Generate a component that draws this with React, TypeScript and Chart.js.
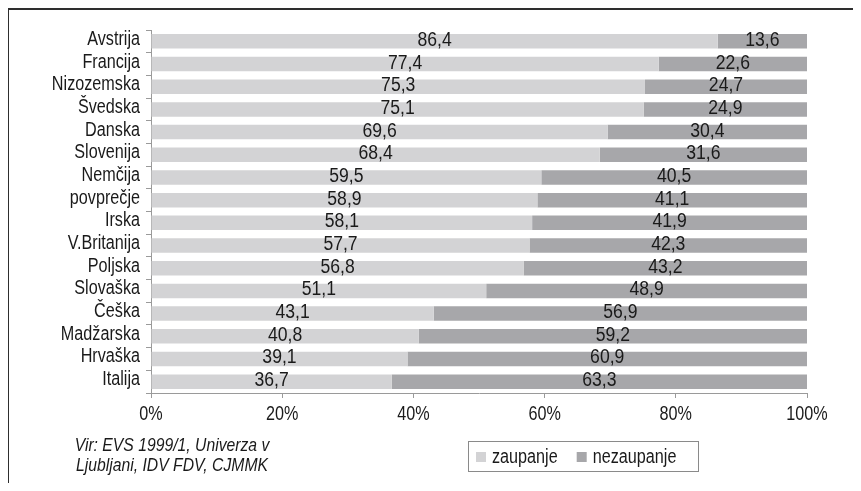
import React, { useEffect, useRef } from "react";
import { Chart, registerables } from "chart.js";

Chart.register(...registerables);

const categories = [
  "Avstrija", "Francija", "Nizozemska", "Švedska", "Danska", "Slovenija", "Nemčija", "povprečje",
  "Irska", "V.Britanija", "Poljska", "Slovaška", "Češka", "Madžarska", "Hrvaška", "Italija",
];
const zaupanje = [86.4, 77.4, 75.3, 75.1, 69.6, 68.4, 59.5, 58.9, 58.1, 57.7, 56.8, 51.1, 43.1, 40.8, 39.1, 36.7];
const nezaupanje = [13.6, 22.6, 24.7, 24.9, 30.4, 31.6, 40.5, 41.1, 41.9, 42.3, 43.2, 48.9, 56.9, 59.2, 60.9, 63.3];
const seriesNames = ["zaupanje", "nezaupanje"];
const xTicks = [0, 20, 40, 60, 80, 100];
const sourceLines = ["Vir: EVS 1999/1, Univerza v", "Ljubljani, IDV FDV, CJMMK"];

const FONT = "'Liberation Sans', Arial, sans-serif";
const SX = 0.83; // horizontal condensation to imitate a narrow face
const LIGHT = "#d3d3d5";
const DARK = "#a7a7aa";
const TEXT = "#1a1a1a";
const AXIS = "#9a9a9a";

function txt(ctx: any, s: string, x: number, y: number, align: string, font: string, sx = SX) {
  ctx.save();
  ctx.font = font;
  ctx.translate(x, y);
  ctx.scale(sx, 1);
  ctx.textAlign = align;
  ctx.textBaseline = "alphabetic";
  ctx.fillStyle = TEXT;
  ctx.fillText(s, 0, 0);
  ctx.restore();
}
function tw(ctx: any, s: string, font: string, sx = SX) {
  ctx.save();
  ctx.font = font;
  const w = ctx.measureText(s).width * sx;
  ctx.restore();
  return w;
}

const decorPlugin = {
  id: "decor",
  afterDatasetsDraw(chart: any) {
    const ctx = chart.ctx;
    const f = `20px ${FONT}`;
    chart.data.datasets.forEach((ds: any, di: number) => {
      const meta = chart.getDatasetMeta(di);
      meta.data.forEach((el: any, i: number) => {
        const v = ds.data[i] as number;
        const cx = (el.x + el.base) / 2;
        txt(ctx, v.toFixed(1).replace(".", ","), cx, el.y + 4.5, "center", f, 0.88);
      });
    });
  },
  afterDraw(chart: any) {
    const ctx = chart.ctx;
    const W = chart.width;
    const H = chart.height;
    const xs = chart.scales.x;
    const ys = chart.scales.y;
    const f = `19.5px ${FONT}`;

    // category labels
    categories.forEach((c, i) => {
      txt(ctx, c, ys.right - 11, ys.getPixelForTick(i) + 3.5, "right", f);
    });
    // x tick labels
    xTicks.forEach((v) => {
      txt(ctx, `${v}%`, xs.getPixelForValue(v), xs.top + 27, "center", f);
    });

    ctx.save();
    // frame (top and left)
    ctx.strokeStyle = "#2e2e2e";
    ctx.lineWidth = 2;
    ctx.beginPath();
    ctx.moveTo(W, 1);
    ctx.lineTo(0, 1);
    ctx.moveTo(0, 1);
    ctx.lineTo(0, H);
    ctx.stroke();
    ctx.restore();

    // source text
    const fi = `italic 18.5px ${FONT}`;
    sourceLines.forEach((t, i) => txt(ctx, t, 164, 443 + i * 20, "center", fi, 0.85));

    // legend
    const bx = 460, by = 433, bw = 230, bh = 30;
    ctx.save();
    ctx.strokeStyle = "#8a8a8a";
    ctx.lineWidth = 1;
    ctx.strokeRect(bx + 0.5, by + 0.5, bw, bh);
    const cols = [LIGHT, DARK];
    let x = bx + 8;
    seriesNames.forEach((n, i) => {
      ctx.fillStyle = cols[i];
      ctx.fillRect(x, by + 11, 10, 10);
      txt(ctx, n, x + 16, by + 22, "left", f);
      x += 16 + tw(ctx, n, f) + 19;
    });
    ctx.restore();
  },
};

export default function App() {
  const ref = useRef<HTMLCanvasElement | null>(null);
  useEffect(() => {
    if (!ref.current) return;
    const chart = new Chart(ref.current, {
      type: "bar",
      data: {
        labels: categories,
        datasets: [
          { label: seriesNames[0], data: zaupanje, backgroundColor: LIGHT, categoryPercentage: 0.64, barPercentage: 1 },
          { label: seriesNames[1], data: nezaupanje, backgroundColor: DARK, categoryPercentage: 0.64, barPercentage: 1 },
        ],
      },
      options: {
        indexAxis: "y",
        animation: false,
        responsive: false,
        layout: { padding: { top: 22, right: 46, left: 0, bottom: 0 } },
        plugins: { legend: { display: false }, tooltip: { enabled: false } },
        scales: {
          x: {
            stacked: true,
            min: 0,
            max: 100,
            afterBuildTicks: (s: any) => { s.ticks = xTicks.map((v) => ({ value: v })); },
            afterFit: (s: any) => { s.height = 90; },
            grid: { drawOnChartArea: false, drawTicks: true, tickLength: 5, color: AXIS },
            border: { color: AXIS, width: 1 },
            ticks: { display: false },
          },
          y: {
            stacked: true,
            afterFit: (s: any) => { s.width = 143; },
            grid: { drawOnChartArea: false, offset: true, drawTicks: true, tickLength: 5, color: AXIS },
            border: { color: AXIS, width: 1 },
            ticks: { display: false, autoSkip: false },
          },
        },
      },
      plugins: [decorPlugin],
    });
    return () => chart.destroy();
  }, []);
  return (
    <div style={{ width: 845, height: 475 }}>
      <canvas ref={ref} width={845} height={475} style={{ display: "block" }} />
    </div>
  );
}
